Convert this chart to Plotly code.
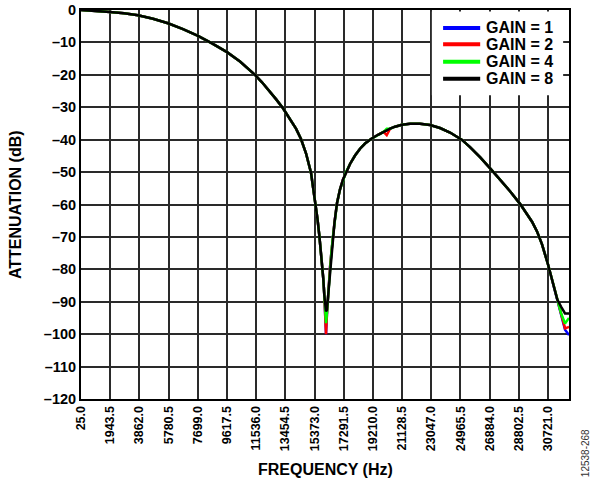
import plotly.graph_objects as go

# Frequency (Hz) sample points
freq = [25, 1011, 1931, 2851, 3772, 4758, 5744, 6729, 7715, 8636, 9622, 10476, 11134, 11462,
        11922, 12382, 12842, 13302, 13763, 14157, 14485, 14814, 15143, 15294, 15452, 15570,
        15689, 15787, 15886, 15952, 16018, 16077, 16129, 16188, 16241, 16320, 16392, 16478,
        16570, 16688, 16853, 17050, 17247, 17444, 17707, 18036, 18365, 18693, 19087, 19547,
        19908, 20119, 20343, 20664, 21124, 21650, 22307, 22965, 23622, 24280, 25049, 25594,
        26252, 27021, 27566, 28224, 28881, 29341, 29670, 29998, 30327, 30722, 31050, 31333,
        31576, 31839, 32100]

gain1 = [0, -0.2, -0.6, -1.0, -1.6, -2.7, -4.1, -5.9, -8.0, -10.3, -13.0, -15.9, -18.6, -20.0,
         -22.3, -24.8, -27.5, -30.3, -33.5, -36.6, -39.8, -44.2, -50.2, -54.8, -60.0, -64.5,
         -69.5, -74.0, -79.0, -83.0, -88.0, -94.0, -100.0, -94.0, -89.5, -84.0, -79.5, -75.0,
         -70.5, -65.5, -59.5, -55.3, -52.3, -50.0, -47.5, -44.9, -42.8, -41.2, -39.8, -38.5,
         -37.6, -37.1, -36.6, -36.0, -35.4, -35.1, -35.1, -35.5, -36.4, -37.8, -40.0, -42.3,
         -45.4, -49.4, -52.3, -55.9, -59.8, -62.8, -65.3, -68.3, -72.3, -78.5, -84.2, -89.3,
         -93.8, -98.6, -100.3]

gain2 = [0, -0.2, -0.6, -1.0, -1.6, -2.7, -4.1, -5.9, -8.0, -10.3, -13.0, -15.9, -18.6, -20.0,
         -22.3, -24.8, -27.5, -30.3, -33.5, -36.6, -39.8, -44.2, -50.2, -54.8, -60.0, -64.5,
         -69.5, -74.0, -79.0, -83.0, -88.0, -94.0, -100.0, -94.0, -89.5, -84.0, -79.5, -75.0,
         -70.5, -65.5, -59.5, -55.3, -52.3, -50.0, -47.5, -44.9, -42.8, -41.2, -39.8, -38.5,
         -37.6, -38.6, -36.6, -36.0, -35.4, -35.1, -35.1, -35.5, -36.4, -37.8, -40.0, -42.3,
         -45.4, -49.4, -52.3, -55.9, -59.8, -62.8, -65.3, -68.3, -72.3, -78.5, -84.2, -89.3,
         -93.8, -98.2, -97.8]

gain4 = [0, -0.2, -0.6, -1.0, -1.6, -2.7, -4.1, -5.9, -8.0, -10.3, -13.0, -15.9, -18.6, -20.0,
         -22.3, -24.8, -27.5, -30.3, -33.5, -36.6, -39.8, -44.2, -50.2, -54.8, -60.0, -64.5,
         -69.5, -74.0, -79.0, -83.0, -88.0, -93.5, -96.6, -93.5, -89.5, -84.0, -79.5, -75.0,
         -70.5, -65.5, -59.5, -55.3, -52.3, -50.0, -47.5, -44.9, -42.8, -41.2, -39.8, -38.5,
         -37.6, -36.6, -36.6, -36.0, -35.4, -35.1, -35.1, -35.5, -36.4, -37.8, -40.0, -42.3,
         -45.4, -49.4, -52.3, -55.9, -59.8, -62.8, -65.3, -68.3, -72.3, -78.5, -84.2, -89.3,
         -93.5, -96.7, -95.0]

gain8 = [0, -0.2, -0.6, -1.0, -1.6, -2.7, -4.1, -5.9, -8.0, -10.3, -13.0, -15.9, -18.6, -20.0,
         -22.3, -24.8, -27.5, -30.3, -33.5, -36.6, -39.8, -44.2, -50.2, -54.8, -60.0, -64.5,
         -69.5, -74.0, -79.0, -83.0, -88.0, -92.5, -93.0, -92.5, -89.5, -84.0, -79.5, -75.0,
         -70.5, -65.5, -59.5, -55.3, -52.3, -50.0, -47.5, -44.9, -42.8, -41.2, -39.8, -38.5,
         -37.6, -37.1, -36.6, -36.0, -35.4, -35.1, -35.1, -35.5, -36.4, -37.8, -40.0, -42.3,
         -45.4, -49.4, -52.3, -55.9, -59.8, -62.8, -65.3, -68.3, -72.3, -78.5, -84.2, -89.3,
         -91.5, -93.6, -93.6]

x_tickvals = [25.0, 1943.5, 3862.0, 5780.5, 7699.0, 9617.5, 11536.0, 13454.5, 15373.0,
              17291.5, 19210.0, 21128.5, 23047.0, 24965.5, 26884.0, 28802.5, 30721.0]
x_ticktext = ["25.0", "1943.5", "3862.0", "5780.5", "7699.0", "9617.5", "11536.0", "13454.5",
              "15373.0", "17291.5", "19210.0", "21128.5", "23047.0", "24965.5", "26884.0",
              "28802.5", "30721.0"]
y_tickvals = [0, -10, -20, -30, -40, -50, -60, -70, -80, -90, -100, -110, -120]
y_ticktext = ["0", "–10", "–20", "–30", "–40", "–50", "–60", "–70", "–80", "–90", "–100",
              "–110", "–120"]

series_names = ["GAIN = 1", "GAIN = 2", "GAIN = 4", "GAIN = 8"]
series_values = [gain1, gain2, gain4, gain8]
series_colors = ["#0000ff", "#ff0000", "#00ff00", "#000000"]

FONT = "Arial, Liberation Sans, sans-serif"

fig = go.Figure()
for name, vals, col in zip(series_names, series_values, series_colors):
    fig.add_trace(go.Scatter(x=freq, y=vals, name=name, mode="lines",
                             line=dict(color=col, width=2.5), showlegend=False))

fig.update_layout(
    width=599, height=486,
    margin=dict(l=81, r=30, t=10, b=87),
    paper_bgcolor="white", plot_bgcolor="white",
    font=dict(family=FONT, color="black"),
    showlegend=False,
)
fig.update_xaxes(
    range=[25, 32100], tickvals=x_tickvals, ticktext=x_ticktext, tickangle=-90,
    tickfont=dict(family=FONT, size=12.5, weight="bold"),
    showgrid=True, gridcolor="#2a2a2a", gridwidth=1.6,
    showline=True, linecolor="black", linewidth=2, mirror=True,
    zeroline=False, ticks="", ticklen=0, automargin=False,
)
fig.update_yaxes(
    range=[-120, 0], tickvals=y_tickvals, ticktext=y_ticktext,
    tickfont=dict(family=FONT, size=14.5, weight="bold"),
    showgrid=True, gridcolor="#2a2a2a", gridwidth=1.6,
    showline=True, linecolor="black", linewidth=2, mirror=True,
    zeroline=False, ticks="", ticklen=0, automargin=False,
)

# Legend box (custom, to match the compact spacing of the original)
fig.add_shape(type="rect", xref="paper", yref="paper", x0=0.719, x1=0.988, y0=0.781, y1=0.996,
              fillcolor="white", line=dict(width=0), layer="above")
legend_y = [0.954, 0.912, 0.867, 0.823]
for name, col, ly in zip(series_names, series_colors, legend_y):
    fig.add_shape(type="line", xref="paper", yref="paper", x0=0.742, x1=0.818, y0=ly, y1=ly,
                  line=dict(color=col, width=4), layer="above")
    fig.add_annotation(text=name, xref="paper", yref="paper", x=0.826, y=ly,
                       xanchor="left", yanchor="middle", showarrow=False,
                       font=dict(family=FONT, size=16, weight="bold", color="black"))

fig.add_annotation(text="FREQUENCY (Hz)", xref="paper", yref="paper", x=0.5, y=-0.1825,
                   xanchor="center", yanchor="middle", showarrow=False,
                   font=dict(family=FONT, size=16, weight="bold"))
fig.add_annotation(text="ATTENUATION (dB)", xref="paper", yref="paper", x=-0.134, y=0.5,
                   xanchor="center", yanchor="middle", textangle=-90, showarrow=False,
                   font=dict(family=FONT, size=16, weight="bold"))
fig.add_annotation(text="12538-268", xref="paper", yref="paper", x=1.033, y=-0.139,
                   xanchor="center", yanchor="middle", textangle=-90, showarrow=False,
                   font=dict(family=FONT, size=10, color="#333333"))

fig.write_html("out.html", config={"displayModeBar": False},
               post_script="document.body.style.margin='0';")
